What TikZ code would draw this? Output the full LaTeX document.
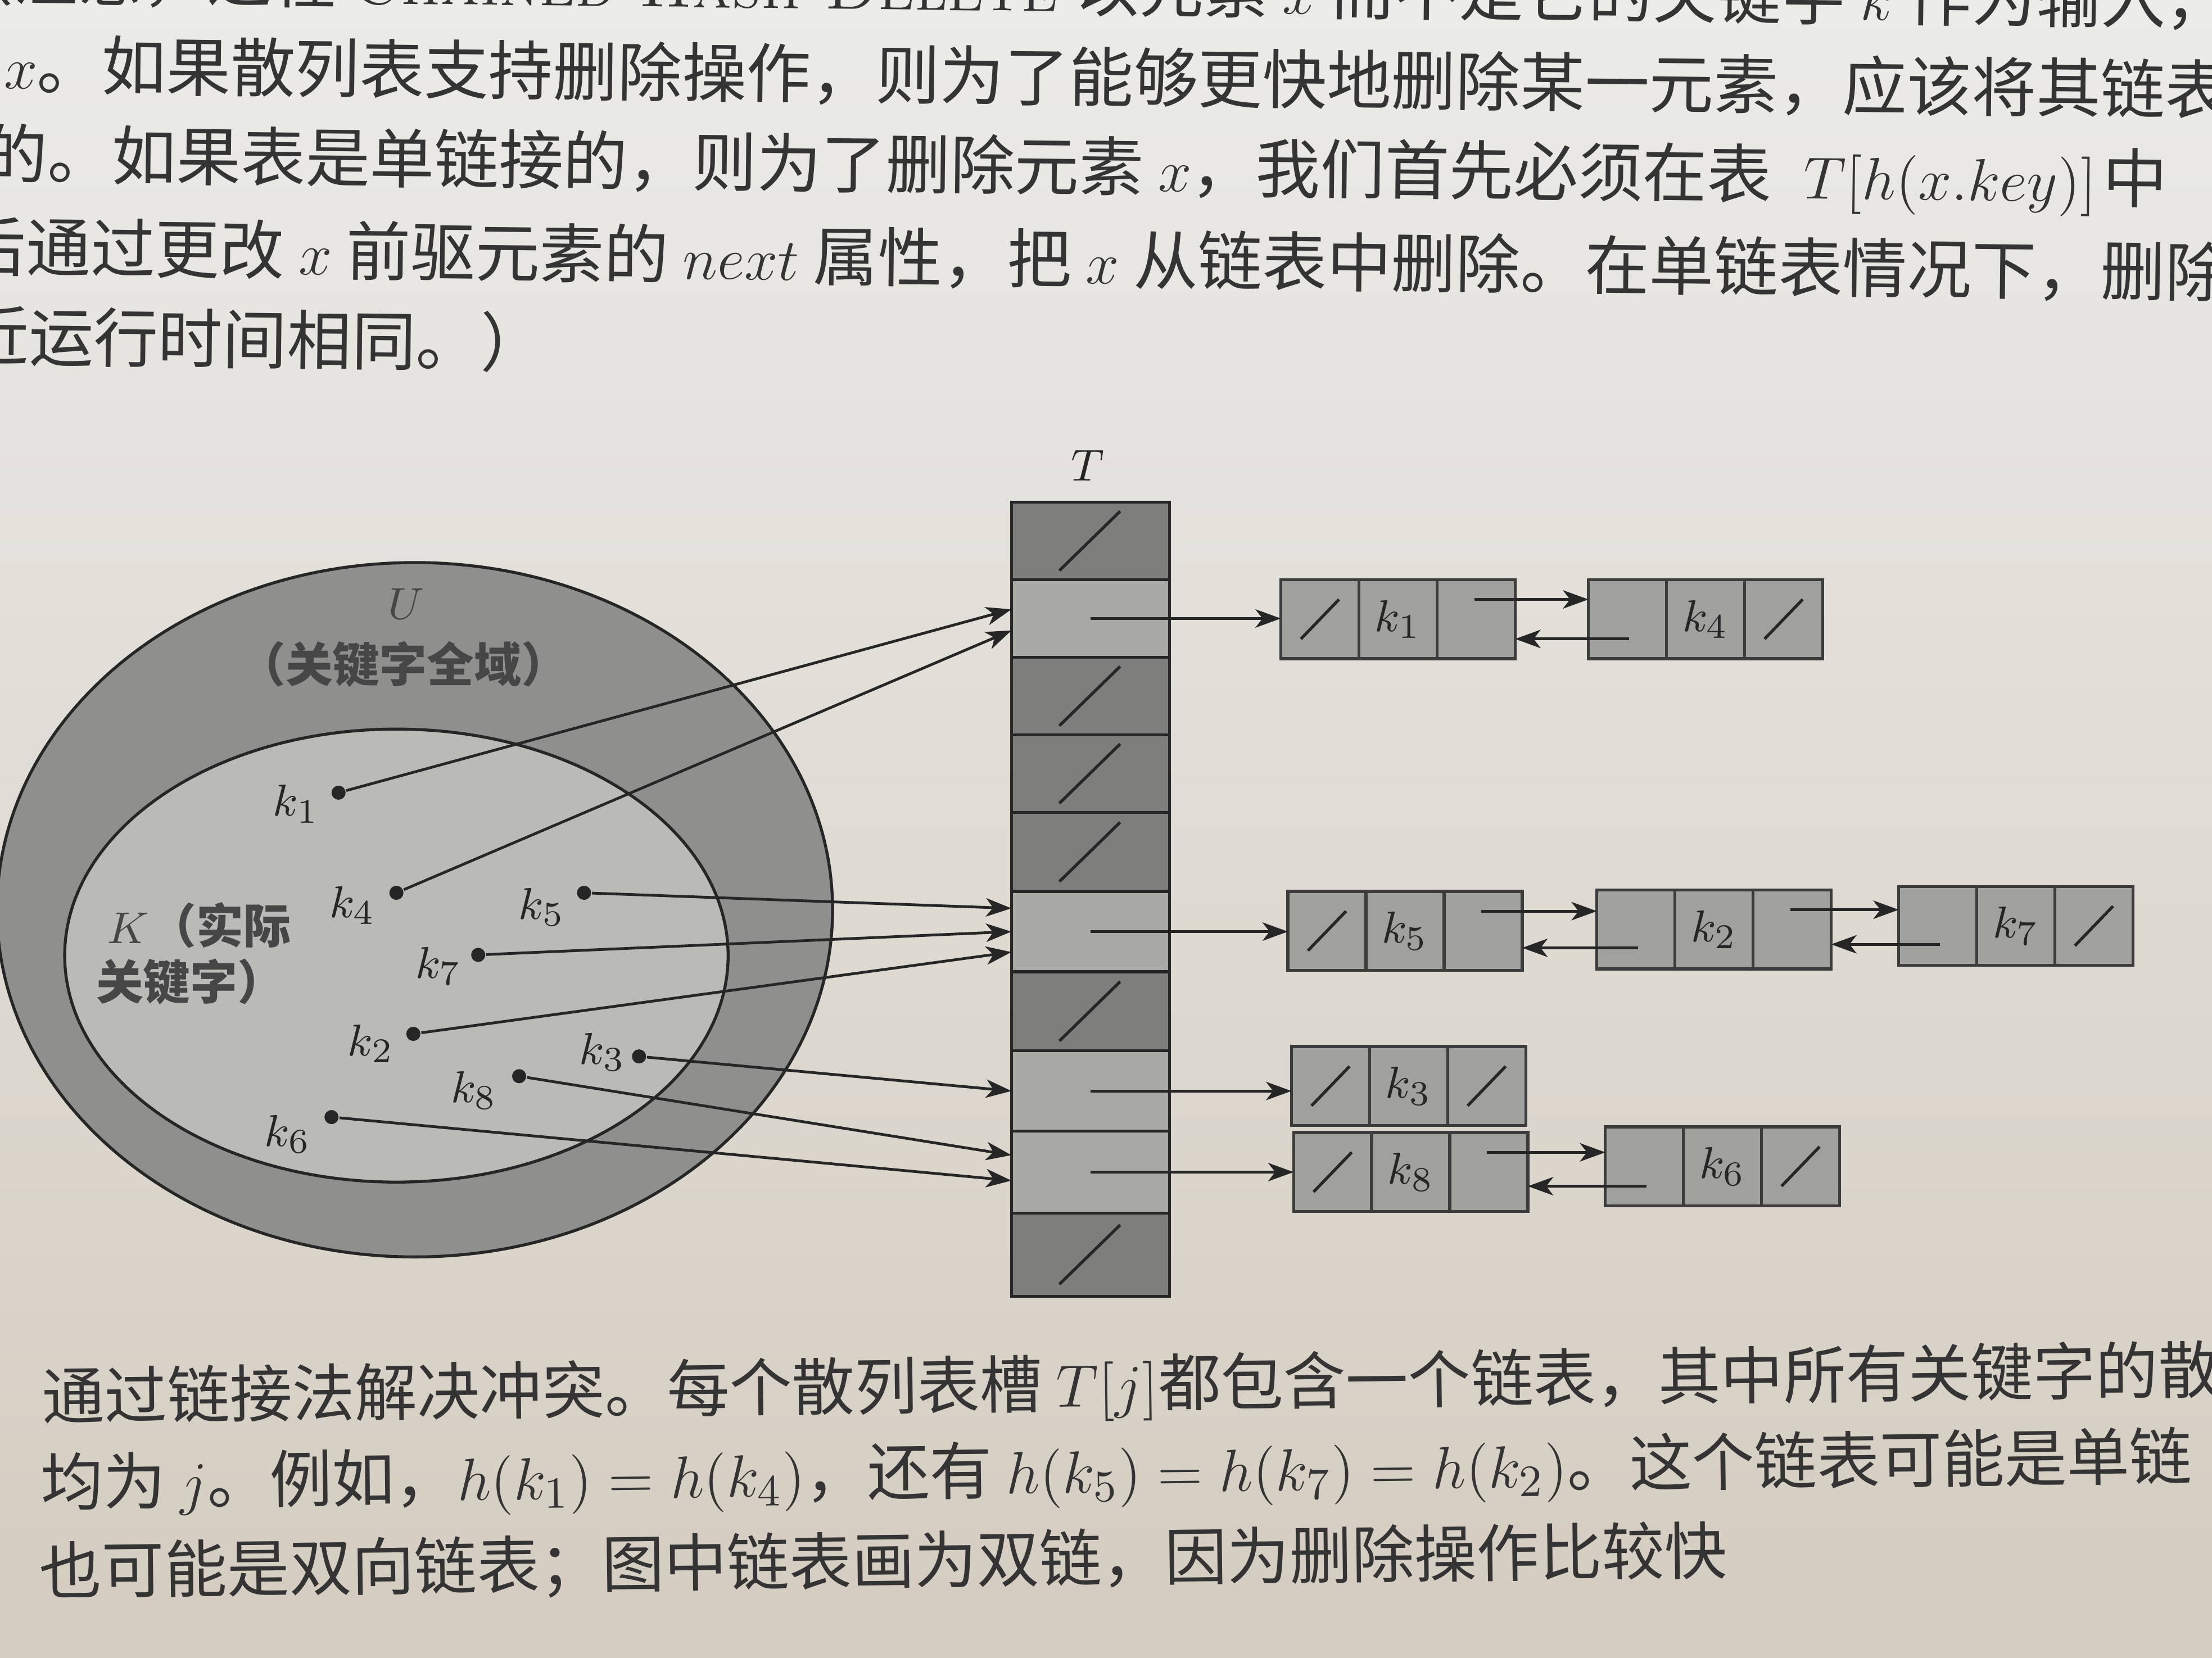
\documentclass[tikz,border=0pt]{standalone}
\usepackage{fontspec}
\newfontfamily\cjk{Noto Sans CJK SC}
\usetikzlibrary{arrows.meta,calc}
\definecolor{bgtop}{RGB}{235,235,232}
\definecolor{bgmid}{RGB}{224,222,216}
\definecolor{bgbot}{RGB}{212,204,192}
\definecolor{outerU}{RGB}{143,143,141}
\definecolor{innerK}{RGB}{186,186,183}
\definecolor{slotdark}{RGB}{126,126,125}
\definecolor{slotlight}{RGB}{168,168,165}
\definecolor{elemfill}{RGB}{160,160,157}
\definecolor{elemline}{RGB}{60,60,60}
\definecolor{ink}{RGB}{38,38,38}
\definecolor{txt}{RGB}{52,52,52}
\definecolor{lbltxt}{RGB}{70,70,70}
\newcommand\mkelem[6]{%
  \node[elem] (#1) at (#2,#3) {};
  \draw[cellline] ($(#1.north west)!1/3!(#1.north east)$) -- ($(#1.south west)!1/3!(#1.south east)$);
  \draw[cellline] ($(#1.north west)!2/3!(#1.north east)$) -- ($(#1.south west)!2/3!(#1.south east)$);
  \node[lbl] (#1k) at (#1.center) {$#4$};
  \ifnum#5=1 \draw[slash] ([shift={(-0.688cm,-0.14cm)}]#1.center) -- ([shift={(-0.418cm,0.14cm)}]#1.center);\fi
  \ifnum#6=1 \draw[slash] ([shift={(0.418cm,-0.14cm)}]#1.center) -- ([shift={(0.688cm,0.14cm)}]#1.center);\fi
}
\newcommand\slotslash[1]{%
  \draw[slash] ([shift={(-0.22cm,-0.21cm)}]#1.center) -- ([shift={(0.21cm,0.21cm)}]#1.center);
}
\begin{document}
\begin{tikzpicture}[x=0.01cm, y=-0.01cm,
  bodytxt/.style={font=\cjk\fontsize{13}{15}\selectfont, text=txt, inner sep=0pt, outer sep=0pt},
  captxt/.style={font=\cjk\fontsize{12.6}{15}\selectfont, text=txt, inner sep=0pt, outer sep=0pt},
  lbl/.style={font=\fontsize{9.5}{11}\selectfont, text=ink, inner sep=0pt},
  cjklbl/.style={font=\cjk\bfseries\fontsize{9.5}{11}\selectfont, text=lbltxt, inner sep=0pt},
  slotd/.style={draw=ink, line width=0.6pt, fill=slotdark, minimum width=1.12cm, inner sep=0pt, outer sep=0pt},
  slotl/.style={draw=ink, line width=0.6pt, fill=slotlight, minimum width=1.12cm, inner sep=0pt, outer sep=0pt},
  elem/.style={draw=elemline, line width=0.6pt, fill=elemfill, minimum width=1.66cm, minimum height=0.56cm, inner sep=0pt, outer sep=0pt},
  cellline/.style={draw=elemline, line width=0.6pt},
  slash/.style={draw=ink, line width=0.6pt},
  ptr/.style={draw=ink, line width=0.55pt, -{Stealth[length=1.8mm,width=1.3mm,inset=0.5mm]}},
  dot/.style={circle, fill=ink, inner sep=0pt, minimum size=0.1cm},
]
\useasboundingbox (0,0) rectangle (1568,1175.5);
\shade[top color=bgtop, middle color=bgmid, bottom color=bgbot] (0,0) rectangle (1568,1175.5);

% ---- body text (top) ----
\node[bodytxt, anchor=east, rotate=-0.65] (t0a) at (750,-9) {（注意，过程 {\rmfamily\textsc{Chained-Hash-Delete}}};
\node[bodytxt, anchor=west, rotate=-0.65] (t0b) at (762,-9) {以元素 $x$ 而不是它的关键字 $k$ 作为输入，};
\node[bodytxt, anchor=west, rotate=-0.65] (t1) at (3,46) {$x$。如果散列表支持删除操作，则为了能够更快地删除某一元素，应该将其链表};
\node[bodytxt, anchor=west, rotate=-0.65] (t2) at (-12,112) {的。如果表是单链接的，则为了删除元素 $x$，我们首先必须在表\hspace{0.5em}$T[h(x.key)]$\hspace{0.1em}中};
\node[bodytxt, anchor=west, rotate=-0.65] (t3) at (-27,175) {后通过更改 $x$ 前驱元素的 $next$ 属性，把 $x$ 从链表中删除。在单链表情况下，删除};
\node[bodytxt, anchor=west, rotate=-0.65] (t4) at (-25,238) {近运行时间相同。）};

% ---- caption ----
\node[captxt, anchor=west, rotate=0.7] (c1) at (30,993) {通过链接法解决冲突。每个散列表槽 $T[j]$都包含一个链表，其中所有关键字的散列};
\node[captxt, anchor=west, rotate=0.7] (c2) at (29,1054) {均为 $j$。例如，$h(k_1)=h(k_4)$，还有 $h(k_5)=h(k_7)=h(k_2)$。这个链表可能是单链};
\node[captxt, anchor=west, rotate=0.7] (c3) at (28,1115) {也可能是双向链表；图中链表画为双链，因为删除操作比较快};

% ---- universe and key sets ----
\fill[outerU] (294,645) ellipse [x radius=2.96cm, y radius=2.46cm];
\draw[ink, line width=0.6pt] (294,645) ellipse [x radius=2.96cm, y radius=2.46cm];
\fill[innerK] (281,677.5) ellipse [x radius=2.35cm, y radius=1.605cm];
\draw[ink, line width=0.6pt] (281,677.5) ellipse [x radius=2.35cm, y radius=1.605cm];
\node[lbl, text=lbltxt] (U) at (288,428) {$U$};
\node[cjklbl] (Ut) at (286,471) {（关键字全域）};
\node[cjklbl] (Kt1) at (141,656) {$K$（实际};
\node[cjklbl] (Kt2) at (135,696) {关键字）};

% ---- table T ----
\node[lbl] (Tlbl) at (771,330) {$T$};
\node[slotd, minimum height=0.55cm] (s0) at (773,383.5) {};
\node[slotl, minimum height=0.55cm] (s1) at (773,438.5) {};
\node[slotd, minimum height=0.55cm] (s2) at (773,493.5) {};
\node[slotd, minimum height=0.55cm] (s3) at (773,548.5) {};
\node[slotd, minimum height=0.56cm] (s4) at (773,604) {};
\node[slotl, minimum height=0.57cm] (s5) at (773,660.5) {};
\node[slotd, minimum height=0.56cm] (s6) at (773,717) {};
\node[slotl, minimum height=0.57cm] (s7) at (773,773.5) {};
\node[slotl, minimum height=0.58cm] (s8) at (773,831) {};
\node[slotd, minimum height=0.59cm] (s9) at (773,889.5) {};
\slotslash{s0}
\slotslash{s2}
\slotslash{s3}
\slotslash{s4}
\slotslash{s6}
\slotslash{s9}

% ---- list elements ----
\mkelem{A1}{991}{439}{k_1}{1}{0}
\mkelem{A2}{1209}{439}{k_4}{0}{1}
\mkelem{B1}{996}{660}{k_5}{1}{0}
\mkelem{B2}{1215}{659}{k_2}{0}{0}
\mkelem{B3}{1429}{656.5}{k_7}{0}{1}
\mkelem{C1}{998.5}{770}{k_3}{1}{1}
\mkelem{D1}{1000}{831}{k_8}{1}{0}
\mkelem{D2}{1221}{827}{k_6}{0}{1}

% table -> first elements
\draw[ptr] (s1.center) -- (s1.center -| A1.west);
\draw[ptr] (s5.center) -- (s5.center -| B1.west);
\draw[ptr] (s7.center) -- (s7.center -| C1.west);
\draw[ptr] (s8.center) -- (s8.center -| D1.west);

% next / prev pointers
\coordinate (a1n) at ([xshift=-2.9mm,yshift=-1.4mm]A1.north east);
\coordinate (a2p) at ([xshift=2.9mm,yshift=1.4mm]A2.south west);
\draw[ptr] (a1n) -- (a1n -| A2.west);
\draw[ptr] (a2p) -- (a2p -| A1.east);
\coordinate (b1n) at ([xshift=-2.9mm,yshift=-1.4mm]B1.north east);
\coordinate (b2p) at ([xshift=2.9mm,yshift=1.5mm]B2.south west);
\coordinate (b2n) at ([xshift=-2.9mm,yshift=-1.4mm]B2.north east);
\coordinate (b3p) at ([xshift=2.9mm,yshift=1.5mm]B3.south west);
\draw[ptr] (b1n) -- (b1n -| B2.west);
\draw[ptr] (b2p) -- (b2p -| B1.east);
\draw[ptr] (b2n) -- (b2n -| B3.west);
\draw[ptr] (b3p) -- (b3p -| B2.east);
\coordinate (d1n) at ([xshift=-2.9mm,yshift=-1.4mm]D1.north east);
\coordinate (d2p) at ([xshift=2.9mm,yshift=1.4mm]D2.south west);
\draw[ptr] (d1n) -- (d1n -| D2.west);
\draw[ptr] (d2p) -- (d2p -| D1.east);

% ---- keys ----
\node[dot] (d1) at (240,562) {};
\node[dot] (d4) at (281,633) {};
\node[dot] (d5) at (414,633) {};
\node[dot] (d7) at (339,677) {};
\node[dot] (d2) at (293,733) {};
\node[dot] (d3) at (453,749) {};
\node[dot] (d8) at (368,763) {};
\node[dot] (d6) at (235,792) {};
\node[lbl] (l1) at (210,570) {$k_1$};
\node[lbl] (l4) at (250,642) {$k_4$};
\node[lbl] (l5) at (384,643) {$k_5$};
\node[lbl] (l7) at (311,685) {$k_7$};
\node[lbl] (l2) at (263,740) {$k_2$};
\node[lbl] (l3) at (427,746) {$k_3$};
\node[lbl] (l8) at (336,773) {$k_8$};
\node[lbl] (l6) at (204,804) {$k_6$};

\draw[ptr] (d1) -- ([yshift=0.65mm]s1.west);
\draw[ptr] (d4) -- ([yshift=-0.85mm]s1.west);
\draw[ptr] (d5) -- ([yshift=1.65mm]s5.west);
\draw[ptr] (d7) -- (s5.west);
\draw[ptr] (d2) -- ([yshift=-1.45mm]s5.west);
\draw[ptr] (d3) -- (s7.west);
\draw[ptr] (d8) -- ([yshift=1.2mm]s8.west);
\draw[ptr] (d6) -- ([yshift=-0.6mm]s8.west);
\end{tikzpicture}
\end{document}
